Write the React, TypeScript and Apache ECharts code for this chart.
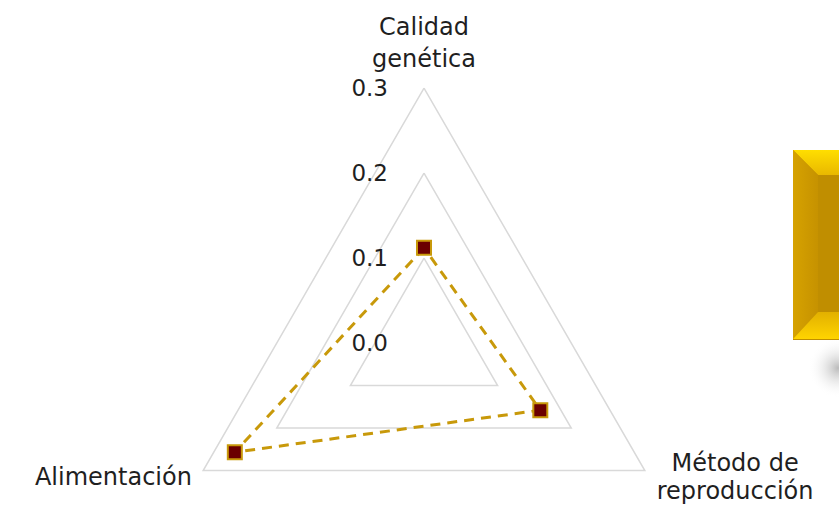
import React, { useEffect, useRef } from "react";
import * as echarts from "echarts";

const indicatorNames = ["Calidad\ngenética", "Alimentación", "Método de\nreproducción"];
const seriesValues = [0.112, 0.257, 0.158];
const axisMin = 0;
const axisMax = 0.3;
const tickCount = 3;

export default function App() {
  const ref = useRef<HTMLDivElement>(null);
  useEffect(() => {
    if (!ref.current) return;
    const chart = echarts.init(ref.current, null, { renderer: "svg" });
    const font = "DejaVu Sans";
    const textColor = "#1f1f1f";
    chart.setOption({
      animation: false,
      backgroundColor: "#ffffff",
      textStyle: { fontFamily: font },
      radar: {
        center: [424, 343],
        radius: 255,
        startAngle: 90,
        shape: "polygon",
        splitNumber: tickCount,
        nameGap: 13,
        axisName: {
          color: textColor,
          fontSize: 24,
          fontFamily: font,
          lineHeight: 32,
          formatter: (name: string) => {
            if (!name.includes("\n")) return name;
            const key = name === indicatorNames[0] ? "t" : "c";
            return name
              .split("\n")
              .map((l) => `{${key}|${l}}`)
              .join("\n");
          },
          rich: {
            t: {
              width: 158,
              align: "center",
              fontSize: 24,
              fontFamily: font,
              lineHeight: 32,
              color: textColor,
            },
            c: {
              width: 158,
              align: "center",
              fontSize: 24,
              fontFamily: font,
              lineHeight: 28,
              color: textColor,
            },
          },
        },
        axisLine: { show: false },
        axisTick: { show: false },
        splitArea: { show: false },
        splitLine: { lineStyle: { color: "#D9D9D9", width: 1.5 } },
        axisLabel: { show: false },
        indicator: indicatorNames.map((n, i) => ({
          name: n,
          min: axisMin,
          max: axisMax,
          axisLabel:
            i === 0
              ? {
                  show: true,
                  showMinLabel: true,
                  margin: 36,
                  color: textColor,
                  fontSize: 23,
                  fontFamily: font,
                  formatter: (v: number) => v.toFixed(1),
                }
              : { show: false },
        })),
      },
      series: [
        {
          type: "radar",
          symbol: "rect",
          symbolSize: 14,
          lineStyle: { color: "#C8990A", width: 3, type: [10, 7] },
          itemStyle: { color: "#6B0000", borderColor: "#C8990A", borderWidth: 2 },
          data: [{ value: seriesValues }],
        },
      ],
      graphic: [
        {
          type: "ellipse",
          shape: { cx: 838, cy: 368, rx: 30, ry: 30 },
          style: {
            fill: new echarts.graphic.RadialGradient(0.5, 0.5, 0.5, [
              { offset: 0, color: "rgba(170,170,170,0.8)" },
              { offset: 1, color: "rgba(255,255,255,0)" },
            ]),
          },
        },
        {
          type: "rect",
          shape: { x: 793, y: 150, width: 50, height: 190 },
          style: { fill: "#C08E00" },
        },
        {
          type: "polygon",
          shape: { points: [[793, 150], [843, 150], [843, 175], [818, 175]] },
          style: {
            fill: new echarts.graphic.LinearGradient(0, 0, 0, 1, [
              { offset: 0, color: "#FFDE00" },
              { offset: 1, color: "#E9B800" },
            ]),
          },
        },
        {
          type: "polygon",
          shape: { points: [[793, 150], [818, 175], [818, 312], [793, 339]] },
          style: {
            fill: new echarts.graphic.LinearGradient(0, 0, 1, 0, [
              { offset: 0, color: "#D6A200" },
              { offset: 1, color: "#C69200" },
            ]),
          },
        },
        {
          type: "polygon",
          shape: { points: [[818, 312], [843, 312], [843, 339], [793, 339]] },
          style: {
            fill: new echarts.graphic.LinearGradient(0, 0, 0, 1, [
              { offset: 0, color: "#E2B000" },
              { offset: 1, color: "#FFD400" },
            ]),
          },
        },
      ],
    });
    return () => chart.dispose();
  }, []);
  return (
    <div
      ref={ref}
      style={{ position: "absolute", left: 0, top: 0, width: 839, height: 505 }}
    />
  );
}
